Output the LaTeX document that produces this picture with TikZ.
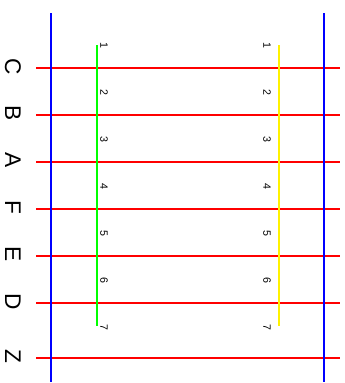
\documentclass[tikz,border=0pt]{standalone}
\usepackage{fontspec}
\setmainfont{Liberation Sans}
\begin{document}
\begin{tikzpicture}[x=0.75pt, y=-0.75pt,
  every node/.style={rotate=-90, inner sep=0pt},
  rung/.style={draw=red, line width=1.1pt},
  rail/.style={draw=blue, line width=1.1pt},
  letter/.style={font=\fontsize{17}{17}\selectfont},
  num/.style={font=\fontsize{8}{8}\selectfont}]
\useasboundingbox (0,0) rectangle (345,383);
% horizontal rungs with their letters
\foreach \y/\l [count=\i] in {68/C,115/B,162/A,209/F,256/E,303/D,358/Z} {
  \coordinate (rw\i) at (36,\y);
  \coordinate (re\i) at (340,\y);
  \draw[rung] (rw\i) -- (re\i);
  \node[letter] (lab\i) at (13,\y-1.5) {\l};
}
% side rails
\coordinate (lt) at (51,13);
\coordinate (lb) at (51,382);
\coordinate (rt) at (324,13);
\coordinate (rb) at (324,382);
\draw[rail] (lt) -- (lb);
\draw[rail] (rt) -- (rb);
% inner strips
\coordinate (gt) at (97,45);
\coordinate (gb) at (97,326);
\coordinate (yt) at (279,45);
\coordinate (yb) at (279,326);
\draw[green, line width=1.1pt] (gt) -- (gb);
\draw[yellow, line width=1.1pt] (yt) -- (yb);
\foreach \i in {1,...,7} {
  \node[num] (gn\i) at (104,45+47*\i-47) {\i};
  \node[num] (yn\i) at (267,45+47*\i-47) {\i};
}
\end{tikzpicture}
\end{document}
